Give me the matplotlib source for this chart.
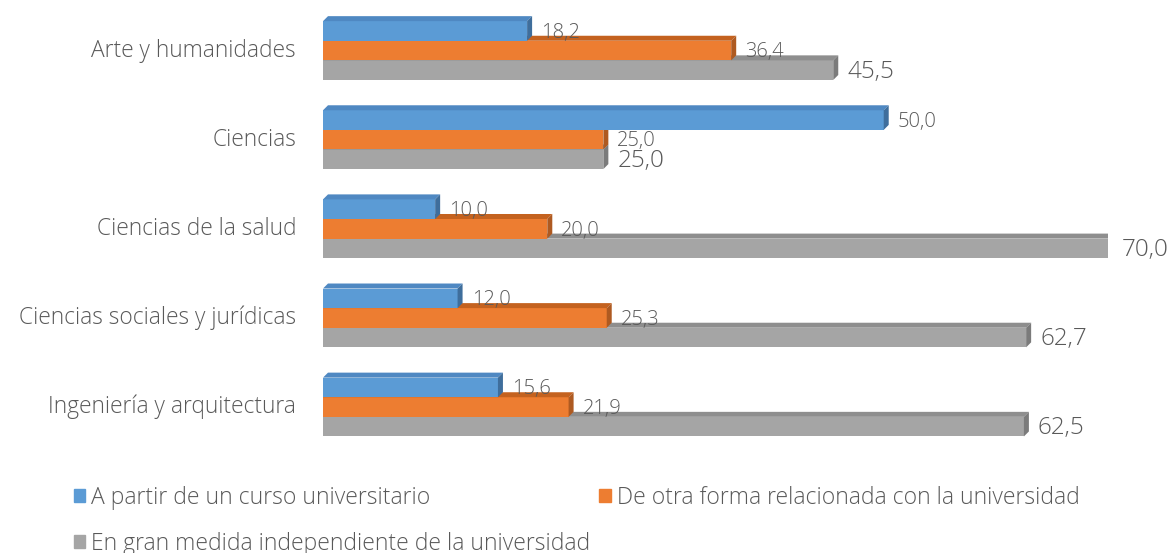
import matplotlib
matplotlib.use("Agg")
import matplotlib.pyplot as plt
from matplotlib.patches import Polygon, Patch

# ----------------------------------------------------------------------
# data
# ----------------------------------------------------------------------
categories = ["Arte y humanidades", "Ciencias", "Ciencias de la salud",
              "Ciencias sociales y jurídicas", "Ingeniería y arquitectura"]
series_names = ["A partir de un curso universitario",
                "De otra forma relacionada con la universidad",
                "En gran medida independiente de la universidad"]
curso = [18.2, 50.0, 10.0, 12.0, 15.6]
otra_forma = [36.4, 25.0, 20.0, 25.3, 21.9]
independiente = [45.5, 25.0, 70.0, 62.7, 62.5]

face_colors = ["#5B9BD5", "#ED7D31", "#A5A5A5"]
top_colors = ["#4F88C2", "#C4621F", "#8E8E8E"]
side_colors = ["#3F6E9C", "#AE5A21", "#7B7B7B"]
text_color = "#595959"

plt.rcParams["font.family"] = ["Open Sans", "DejaVu Sans"]

W, H = 1172, 553
fig = plt.figure(figsize=(W / 100, H / 100), dpi=100)

# axes placed so that 0 sits at x=323px and 70 at x=1108px
x0_px, x70_px = 323, 1108
top_px, bot_px = 6, 451.6
ax = fig.add_axes([x0_px / W, 1 - bot_px / H, (x70_px - x0_px) / W, (bot_px - top_px) / H])
ax.set_xlim(0, 70)
ax.set_ylim(4.5, -0.5)
ax.axis("off")

bar_h = 0.22
depth = 5  # px
dx = depth * 70 / (x70_px - x0_px)
dy = depth * 5 / (bot_px - top_px)

all_values = [curso, otra_forma, independiente]
offsets = [-bar_h, 0, bar_h]
label_sizes = [14.5, 14.5, 17.5]

# draw bottom series first so upper bars cover the hidden top faces
for s in [2, 1, 0]:
    vals = all_values[s]
    z = 3 - s
    for i, v in enumerate(vals):
        c = i + offsets[s]
        yt, yb = c - bar_h / 2, c + bar_h / 2
        ax.barh(c, v, height=bar_h, color=face_colors[s], zorder=z, linewidth=0)
        ax.add_patch(Polygon([(0, yt), (dx, yt - dy), (v + dx, yt - dy), (v, yt)],
                             closed=True, facecolor=top_colors[s], edgecolor="none", zorder=z))
        ax.add_patch(Polygon([(v, yt), (v + dx, yt - dy), (v + dx, yb - dy), (v, yb)],
                             closed=True, facecolor=side_colors[s], edgecolor="none", zorder=z))
        ax.text(v + dx + 0.8, c + 0.02, f"{v:.1f}".replace(".", ","),
                ha="left", va="center", fontsize=label_sizes[s],
                color=text_color, fontweight="light", zorder=10, clip_on=False)

# category labels
for i, cat in enumerate(categories):
    ax.text(-2.4, i, cat, ha="right", va="center", fontsize=16.4,
            color=text_color, fontweight="light", clip_on=False)

# legend (column fill order -> rows: A | De, En)
handles = [Patch(color=face_colors[k]) for k in range(3)]
order = [0, 2, 1]
leg = fig.legend([handles[k] for k in order], [series_names[k] for k in order],
                 ncol=2, loc="upper left", bbox_to_anchor=(74 / W, 1 - 486 / H),
                 frameon=False, fontsize=16.5, handlelength=0.5, handleheight=0.5,
                 handletextpad=0.25, columnspacing=0.4, labelspacing=0.95,
                 borderaxespad=0, borderpad=0)
for t in leg.get_texts():
    t.set_color(text_color)
    t.set_fontweight("light")

fig.savefig("out.png", dpi=100)
